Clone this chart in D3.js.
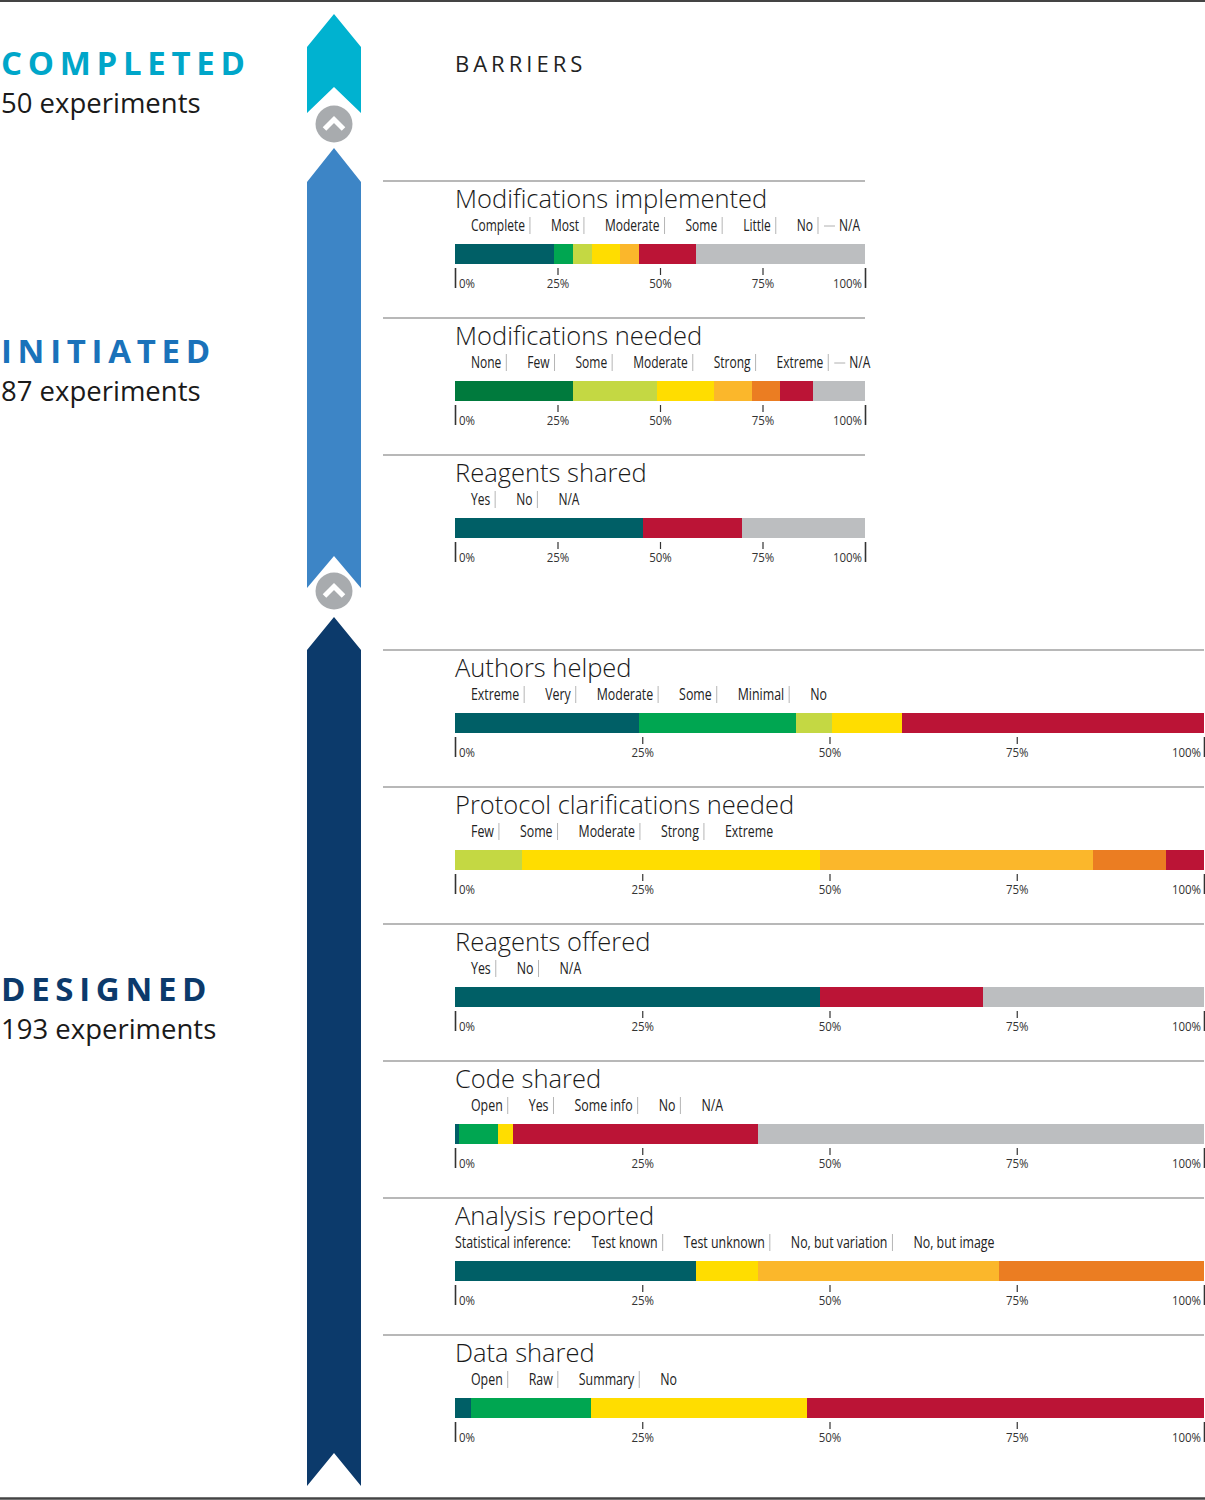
<!DOCTYPE html>
<html><head><meta charset="utf-8">
<script src="https://cdn.jsdelivr.net/npm/d3@7"></script>
<style>body{margin:0;background:#fff} svg{display:block}</style>
</head><body><svg id="c" width="1205" height="1500"></svg>
<script>
// ---------- DATA ----------
const stageNames  = ["COMPLETED", "INITIATED", "DESIGNED"];
const stageCounts = [50, 87, 193];

const panelTitles = ["Modifications implemented", "Modifications needed", "Reagents shared",
  "Authors helped", "Protocol clarifications needed", "Reagents offered", "Code shared",
  "Analysis reported", "Data shared"];

const modImplCats = ["Complete", "Most", "Moderate", "Some", "Little", "No", "N/A"];
const modImplVals = [24.2, 4.6, 4.6, 6.8, 4.7, 13.8, 41.3];
const modNeedCats = ["None", "Few", "Some", "Moderate", "Strong", "Extreme", "N/A"];
const modNeedVals = [28.8, 20.5, 13.9, 9.2, 6.9, 8.1, 12.6];
const reaShCats   = ["Yes", "No", "N/A"];
const reaShVals   = [45.9, 24.2, 29.9];
const authCats    = ["Extreme", "Very", "Moderate", "Some", "Minimal", "No"];
const authVals    = [24.6, 20.9, 4.8, 9.4, 0, 40.3];
const protCats    = ["Few", "Some", "Moderate", "Strong", "Extreme"];
const protVals    = [8.9, 39.8, 36.5, 9.7, 5.1];
const reaOffCats  = ["Yes", "No", "N/A"];
const reaOffVals  = [48.7, 21.8, 29.5];
const codeCats    = ["Open", "Yes", "Some info", "No", "N/A"];
const codeVals    = [0.5, 5.2, 2.1, 32.7, 59.5];
const anaCats     = ["Test known", "Test unknown", "No, but variation", "No, but image"];
const anaVals     = [32.2, 8.3, 32.1, 27.4];
const dataCats    = ["Open", "Raw", "Summary", "No"];
const dataVals    = [2.1, 16.1, 28.8, 53.0];

const tickValues = [0, 25, 50, 75, 100];

// ---------- STYLE ----------
const C = {teal:"#005f66", green:"#00a651", dkgreen:"#007a3d", lime:"#c4d843", yellow:"#ffdd00",
  ltorange:"#fbb72b", orange:"#eb7d22", crimson:"#bb1436", gray:"#bcbec0"};
const panelColors = [
  [C.teal, C.green, C.lime, C.yellow, C.ltorange, C.crimson, C.gray],
  [C.dkgreen, C.lime, C.yellow, C.ltorange, C.orange, C.crimson, C.gray],
  [C.teal, C.crimson, C.gray],
  [C.teal, C.green, C.lime, C.yellow, C.ltorange, C.crimson],
  [C.lime, C.yellow, C.ltorange, C.orange, C.crimson],
  [C.teal, C.crimson, C.gray],
  [C.teal, C.green, C.yellow, C.crimson, C.gray],
  [C.teal, C.yellow, C.ltorange, C.orange],
  [C.teal, C.green, C.yellow, C.crimson]
];
const panelCats = [modImplCats, modNeedCats, reaShCats, authCats, protCats, reaOffCats, codeCats, anaCats, dataCats];
const panelVals = [modImplVals, modNeedVals, reaShVals, authVals, protVals, reaOffVals, codeVals, anaVals, dataVals];
const naDash = [true, true, false, false, false, false, false, false, false];
const legendPrefix = [null, null, null, null, null, null, null, "Statistical inference:", null];

const svg = d3.select("#c");
const FT = "'Open Sans', 'Noto Sans', sans-serif";
const FN = "'Open Sans', 'Noto Sans', sans-serif";
const SQ = 0.75;   // horizontal condensing of small labels

// border lines
svg.append("line").attr("x1",0).attr("x2",1205).attr("y1",1).attr("y2",1).attr("stroke","#444").attr("stroke-width",2);
svg.append("line").attr("x1",0).attr("x2",1205).attr("y1",1498.5).attr("y2",1498.5).attr("stroke","#444").attr("stroke-width",2.5);

// ---------- STAGE ARROWS ----------
const ax0 = 307, ax1 = 361, axm = (ax0 + ax1) / 2;
const arrows = [
  {fill:"#00b2d0", tip:14, sh:47, bot:113, notch:87},
  {fill:"#3d85c6", tip:148, sh:182, bot:588, notch:556},
  {fill:"#0c3a6b", tip:617, sh:650, bot:1486, notch:1453}
];
arrows.forEach(a => {
  const p = d3.path();
  p.moveTo(axm, a.tip); p.lineTo(ax1, a.sh); p.lineTo(ax1, a.bot);
  p.lineTo(axm, a.notch); p.lineTo(ax0, a.bot); p.lineTo(ax0, a.sh); p.closePath();
  svg.append("path").attr("d", p.toString()).attr("fill", a.fill);
});
[124, 591].forEach(cy => {
  svg.append("circle").attr("cx", axm).attr("cy", cy).attr("r", 18.5).attr("fill", "#a8abae");
  svg.append("path").attr("d", `M${axm-9.5},${cy+5} L${axm},${cy-4.5} L${axm+9.5},${cy+5}`)
    .attr("fill","none").attr("stroke","#fff").attr("stroke-width",5).attr("stroke-linejoin","miter");
});

// ---------- STAGE LABELS ----------
const stageColors = ["#00a6c9", "#1a72ba", "#0c3a6b"];
const stageY = [75, 363, 1001];
stageNames.forEach((n, i) => {
  svg.append("text").attr("x", 1).attr("y", stageY[i]).text(n)
    .attr("font-family", FT).attr("font-weight", 700).attr("font-size", 33)
    .attr("letter-spacing", 5.7).attr("fill", stageColors[i]);
  svg.append("text").attr("x", 1).attr("y", stageY[i] + 38).text(stageCounts[i] + " experiments")
    .attr("font-family", FT).attr("font-size", 27.5).attr("fill", "#1a1a1a");
});

svg.append("text").attr("x", 455).attr("y", 72).text("BARRIERS")
  .attr("font-family", FT).attr("font-size", 22).attr("letter-spacing", 4).attr("fill", "#222");

// ---------- PANELS ----------
const xSmall = d3.scaleLinear().domain([0, 100]).range([455, 865]);
const xLarge = d3.scaleLinear().domain([0, 100]).range([455, 1204]);
const panelY = [181, 318, 455, 650, 787, 924, 1061, 1198, 1335];

function narrowText(sel, x, txt, size) {
  const t = sel.append("text").attr("transform", `translate(${x},0) scale(${SQ},1)`).text(txt)
    .attr("font-family", FN).attr("font-size", size).attr("fill", "#222");
  return t.node().getComputedTextLength() * SQ;
}

panelTitles.forEach((title, i) => {
  const x = i < 3 ? xSmall : xLarge;
  const lfs = i < 3 ? 16 : 16.5;
  const Y = panelY[i];
  const g = svg.append("g");
  g.append("line").attr("x1", 383).attr("x2", x.range()[1]).attr("y1", Y).attr("y2", Y)
    .attr("stroke", "#a0a0a0").attr("stroke-width", 1.3);
  g.append("text").attr("x", 455).attr("y", Y + 27).text(title)
    .attr("font-family", FT).attr("font-weight", 300).attr("font-size", 25.5).attr("fill", "#1a1a1a");

  // legend
  const lg = g.append("g").attr("transform", `translate(0,${Y + 50})`);
  let cx = 471;
  if (legendPrefix[i]) {
    const w = narrowText(lg, 455, legendPrefix[i], lfs);
    cx = 455 + w + 21;
  }
  const cats = panelCats[i];
  cats.forEach((c, j) => {
    const isNA = c === "N/A";
    if (isNA && naDash[i]) {
      lg.append("line").attr("x1", cx - 15).attr("x2", cx - 4).attr("y1", -5).attr("y2", -5)
        .attr("stroke", "#b0b0b0").attr("stroke-width", 1);
    }
    const w = narrowText(lg, cx, c, lfs);
    if (j < cats.length - 1) {
      const sx = cx + w + 5;
      lg.append("line").attr("x1", sx).attr("x2", sx).attr("y1", -14).attr("y2", 3)
        .attr("stroke", "#b5b5b5").attr("stroke-width", 1);
      cx = sx + 21;
    }
  });

  // stacked bar
  const vals = panelVals[i];
  const ends = d3.cumsum(vals);
  const segs = vals.map((v, j) => ({v, s: ends[j] - v, e: ends[j], color: panelColors[i][j]}));
  g.selectAll("rect.seg").data(segs.filter(d => d.v > 0)).join("rect")
    .attr("class", "seg")
    .attr("x", d => x(d.s)).attr("width", d => x(d.e) - x(d.s))
    .attr("y", Y + 63).attr("height", 20)
    .attr("fill", d => d.color).attr("shape-rendering", "crispEdges");

  // axis
  const axis = d3.axisBottom(x).tickValues(tickValues).tickSize(7).tickPadding(3)
    .tickFormat(d => d + "%");
  const ag = g.append("g").attr("transform", `translate(0,${Y + 87})`).call(axis);
  ag.select(".domain").remove();
  ag.selectAll(".tick line").attr("stroke", "#333").attr("stroke-width", 1.2);
  ag.selectAll(".tick text").attr("font-family", FN).attr("font-size", 13.5).attr("fill", "#333")
    .attr("transform", "scale(0.85,1)");
  ag.selectAll(".tick").filter(d => d === 0 || d === 100).select("line")
    .attr("y2", 20).attr("stroke-width", 1.6);
  ag.selectAll(".tick").filter(d => d === 0).select("text").attr("text-anchor", "start").attr("x", 4);
  ag.selectAll(".tick").filter(d => d === 100).select("text").attr("text-anchor", "end").attr("x", -4);
});
</script></body></html>
